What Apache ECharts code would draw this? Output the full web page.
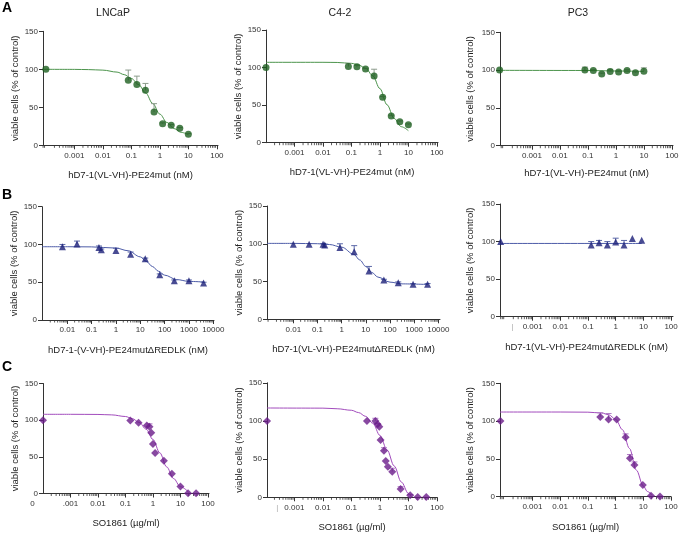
<!DOCTYPE html>
<html><head><meta charset="utf-8">
<script src="https://cdn.jsdelivr.net/npm/echarts@6/dist/echarts.min.js"></script>
<style>html,body{margin:0;padding:0;background:#fff}#c{width:679px;height:533px}</style>
</head><body><div id="c"></div>
<script>
// ---------- tick labels ----------
const tickPosA = [-3, -2, -1, 0, 1, 2];
const tickTextA = ['0.001', '0.01', '0.1', '1', '10', '100'];
const tickPosB = [-2, -1, 0, 1, 2, 3, 4];
const tickTextB = ['0.01', '0.1', '1', '10', '100', '1000', '10000'];
const tickPosB3 = [-3.73, -3, -2, -1, 0, 1, 2];
const tickTextB3 = ['|', '0.001', '0.01', '0.1', '1', '10', '100'];
const tickPosC1 = [-4, -3, -2, -1, 0, 1, 2];
const tickTextC1 = ['0', '.001', '0.01', '0.1', '1', '10', '100'];
const tickPosC2 = [-3.6, -3, -2, -1, 0, 1, 2];
const tickTextC2 = ['|', '0.001', '0.01', '0.1', '1', '10', '100'];
const yTicks = [0, 50, 100, 150];

// ---------- row A: hD7-1(VL-VH)-PE24mut ----------
const lncapConc   = [0.0001, 0.078, 0.156, 0.3125, 0.625, 1.25, 2.5, 5, 10];
const lncapViable = [100, 85.5, 80, 72.4, 43.8, 28.5, 26.3, 22.3, 14.5];
const lncapErr    = [0, 13.5, 11, 9, 11, 1, 1, 1, 1];
const lncapFitLog = [-4.1, -3, -2.5, -2, -1.5, -1.25, -1, -0.75, -0.5, -0.25, 0, 0.25, 0.5, 0.75, 1.0];
const lncapFitY   = [100, 99.9, 99.6, 98.9, 96.3, 93, 88, 80, 69, 55, 41, 30, 22, 17, 14];

const c42Conc   = [0.0001, 0.078, 0.156, 0.3125, 0.625, 1.25, 2.5, 5, 10];
const c42Viable = [100, 101.3, 101, 98, 88.8, 60.4, 35.6, 28, 24];
const c42Err    = [0, 4, 2, 1, 9, 1, 1, 1, 1];
const c42FitLog = [-4, -2, -1.5, -1, -0.75, -0.5, -0.25, 0, 0.25, 0.5, 0.75, 1.0];
const c42FitY   = [107, 107, 106.8, 105.6, 103.6, 98.9, 89.1, 72, 50.5, 32.3, 21.3, 16];

const pc3Conc   = [0.00007, 0.078, 0.156, 0.3125, 0.625, 1.25, 2.5, 5, 10];
const pc3Viable = [100, 100, 99.5, 95, 98, 97.5, 99.5, 96.5, 98.5];
const pc3Err    = [0, 4, 1, 1, 3, 1, 1, 1, 4.5];
const pc3FitLog = [-4.14, -1, 0, 1];
const pc3FitY   = [99.7, 99.5, 98.8, 98.3];

// ---------- row B: ΔREDLK ----------
const bLncapConc   = [0.0063, 0.025, 0.2, 0.25, 1, 4, 16, 63, 250, 1000, 4000];
const bLncapViable = [97, 100.5, 96, 93, 92, 87, 81, 60, 52, 52, 49];
const bLncapErr    = [3, 4, 2, 1, 3, 3, 1, 1, 1, 1, 1];
const bLncapFitLog = [-3.04, -2, -1, 0, 0.5, 1, 1.25, 1.5, 1.75, 2, 2.5, 3, 3.6];
const bLncapFitY   = [97, 97, 96.8, 95.2, 91.7, 83.6, 77.5, 70.8, 64.5, 59.4, 53.5, 51.1, 50.3];

const bC42Conc   = [0.01, 0.045, 0.17, 0.2, 0.85, 3.3, 13.5, 56, 220, 900, 3600];
const bC42Viable = [99.3, 99.3, 99.3, 98.5, 95, 89.5, 64, 52, 48.5, 46.3, 46.3];
const bC42Err    = [1, 1, 1, 1, 5, 8, 6, 1, 1, 1, 1];
const bC42FitLog = [-3.09, -2, -1, -0.5, 0, 0.5, 0.75, 1, 1.25, 1.5, 2, 2.5, 3.56];
const bC42FitY   = [100.5, 100.5, 100.1, 99, 95.5, 86.1, 78.5, 69.9, 62, 55.9, 49.2, 46.9, 46.1];

const bPc3Conc   = [0.00007, 0.13, 0.25, 0.5, 1, 2, 4, 8.7];
const bPc3Viable = [100, 95.5, 98.5, 95.5, 99.5, 95.5, 104, 101.7];
const bPc3Err    = [0, 4.5, 3, 4.5, 5, 6, 0, 0];
const bPc3FitLog = [-4.18, 0.94];
const bPc3FitY   = [97.5, 97.5];

// ---------- row C: SO1861 ----------
const cLncapConc   = [0.0001, 0.15, 0.3, 0.6, 0.75, 0.87, 1, 1.2, 2.5, 4.9, 10, 19, 37];
const cLncapViable = [100, 99.6, 96.4, 92.7, 91, 82.7, 67.6, 55.3, 44.8, 27, 9.6, 0.5, 0.3];
const cLncapErr    = [0, 0, 0, 0, 4, 0, 0, 0, 0, 0, 0, 0, 0];
const cLncapFitLog = [-4, -3, -2, -1.5, -1, -0.75, -0.5, -0.25, 0, 0.25, 0.5, 0.75, 1, 1.3];
const cLncapFitY   = [108, 108, 107.8, 107.2, 105, 102.1, 96.9, 87.8, 73.7, 55.5, 36.3, 20.4, 9.3, 1.7];

const cC42Conc   = [0.00011, 0.35, 0.69, 0.83, 0.95, 1.05, 1.38, 1.6, 1.9, 2.7, 5.3, 11.5, 21, 42];
const cC42Viable = [100, 100, 100, 95.6, 92.5, 75, 61, 47.6, 40, 33.6, 10.9, 2.6, 0.5, 0.5];
const cC42Err    = [0, 0, 3.5, 1, 0, 0, 4, 0, 0, 4.5, 3, 1, 0, 0];
const cC42FitLog = [-3.96, -2, -1.5, -1, -0.75, -0.5, -0.25, 0, 0.25, 0.5, 0.75, 1, 1.1];
const cC42FitY   = [117, 116.8, 116, 114, 111, 106, 97, 81, 62, 41, 20, 5, 1];

const cPc3Conc   = [0.00007, 0.28, 0.56, 1.1, 2.3, 3.3, 4.8, 9.6, 19, 40];
const cPc3Viable = [100, 105.5, 102, 102, 78.6, 50.8, 42, 15.5, 1.3, 0.3];
const cPc3Err    = [0, 5.5, 8, 0, 4.5, 5, 4, 0, 0, 0];
const cPc3FitLog = [-4.17, -2, -1, -0.5, -0.25, 0, 0.25, 0.5, 0.75, 1, 1.15, 1.3];
const cPc3FitY   = [112, 112, 111.8, 110.7, 108.4, 102.5, 88.6, 63.9, 35.1, 14.2, 6.9, 2.5];

// ---------- texts ----------
const cellLines = ['LNCaP', 'C4-2', 'PC3'];
const panelLetters = ['A', 'B', 'C'];
const yName = 'viable cells (% of control)';
const xNamesA = ['hD7-1(VL-VH)-PE24mut (nM)', 'hD7-1(VL-VH)-PE24mut (nM)', 'hD7-1(VL-VH)-PE24mut (nM)'];
const xNamesB = ['hD7-1-(V-VH)-PE24mut\u0394REDLK (nM)', 'hD7-1(VL-VH)-PE24mut\u0394REDLK (nM)', 'hD7-1(VL-VH)-PE24mut\u0394REDLK (nM)'];
const xNamesC = ['SO1861 (\u00b5g/ml)', 'SO1861 (\u00b5g/ml)', 'SO1861 (\u00b5g/ml)'];

// ---------- styling ----------
const green  = {pt: '#1d5f1f', fit: '#4c944c', err: '#8c9c8c', symbol: 'circle', size: 7};
const blue   = {pt: '#1c1f78', fit: '#4d5ca8', err: '#5b68a8', symbol: 'triangle', size: 7};
const purple = {pt: '#6a1b8a', fit: '#a24cbd', err: '#b07cc6', symbol: 'diamond', size: 8};

const panels = [
  {g:{left:43, top:31.3, width:175, height:114}, xmin:-4.1, xmax:2.04, tp:tickPosA, tt:tickTextA, c:lncapConc, v:lncapViable, e:lncapErr, fl:lncapFitLog, fy:lncapFitY, th:green, xn:xNamesA[0], ng:25, yng:22.5},
  {g:{left:266, top:30, width:172, height:112.7}, xmin:-4.0, xmax:2.04, tp:tickPosA, tt:tickTextA, c:c42Conc, v:c42Viable, e:c42Err, fl:c42FitLog, fy:c42FitY, th:green, xn:xNamesA[1], ng:25, yng:20.5},
  {g:{left:500, top:32.3, width:173, height:113.4}, xmin:-4.14, xmax:2.04, tp:tickPosA, tt:tickTextA, c:pc3Conc, v:pc3Viable, e:pc3Err, fl:pc3FitLog, fy:pc3FitY, th:green, xn:xNamesA[2], ng:22.5, yng:24.5},
  {g:{left:42, top:206.7, width:172, height:113.3}, xmin:-3.04, xmax:4.03, tp:tickPosB, tt:tickTextB, c:bLncapConc, v:bLncapViable, e:bLncapErr, fl:bLncapFitLog, fy:bLncapFitY, th:blue, xn:xNamesB[0], ng:25, yng:21.5},
  {g:{left:267, top:206, width:173, height:113.3}, xmin:-3.09, xmax:4.07, tp:tickPosB, tt:tickTextB, c:bC42Conc, v:bC42Viable, e:bC42Err, fl:bC42FitLog, fy:bC42FitY, th:blue, xn:xNamesB[1], ng:25.5, yng:21.5},
  {g:{left:500, top:204, width:173, height:112.7}, xmin:-4.18, xmax:2.07, tp:tickPosB3, tt:tickTextB3, c:bPc3Conc, v:bPc3Viable, e:bPc3Err, fl:bPc3FitLog, fy:bPc3FitY, th:blue, xn:xNamesB[2], ng:26, yng:24.5},
  {g:{left:43, top:383.5, width:166, height:110}, xmin:-4.0, xmax:2.04, tp:tickPosC1, tt:tickTextC1, c:cLncapConc, v:cLncapViable, e:cLncapErr, fl:cLncapFitLog, fy:cLncapFitY, th:purple, xn:xNamesC[0], ng:24.5, yng:22.5},
  {g:{left:267, top:382.8, width:170, height:114.5}, xmin:-3.96, xmax:2.0, tp:tickPosC2, tt:tickTextC2, c:cC42Conc, v:cC42Viable, e:cC42Err, fl:cC42FitLog, fy:cC42FitY, th:purple, xn:xNamesC[1], ng:25.5, yng:21.5},
  {g:{left:500, top:383.3, width:171, height:113.4}, xmin:-4.17, xmax:2.0, tp:tickPosA, tt:tickTextA, c:cPc3Conc, v:cPc3Viable, e:cPc3Err, fl:cPc3FitLog, fy:cPc3FitY, th:purple, xn:xNamesC[2], ng:26, yng:24.5}
];

const FONT = 'Liberation Sans, Arial, sans-serif';
const AX = '#333';
const grid = [], xAxis = [], yAxis = [], series = [];

panels.forEach((p, i) => {
  grid.push(Object.assign({outerBoundsMode: 'none', containLabel: false}, p.g));
  const labelMap = {};
  p.tp.forEach((v, k) => { labelMap[v.toFixed(2)] = p.tt[k]; });
  const majors = p.tp.filter((v, k) => Number.isInteger(v) && p.tt[k] !== '0' && p.tt[k] !== '|');
  xAxis.push({
    type: 'value', gridIndex: i, min: p.xmin, max: p.xmax,
    name: p.xn, nameLocation: 'middle', nameGap: p.ng,
    nameTextStyle: {fontFamily: FONT, fontSize: 9.5, color: '#222'},
    axisLine: {show: true, onZero: false, lineStyle: {color: AX, width: 1}},
    axisTick: {show: true, length: 4, customValues: majors, lineStyle: {color: AX}},
    axisLabel: {
      customValues: p.tp, fontFamily: FONT, fontSize: 8, color: '#333', margin: 6, hideOverlap: false,
      formatter: (v) => {
        const t = labelMap[(+v).toFixed(2)];
        if (t === '0') return '{z|0}';
        if (t === '|') return '{g||}';
        return t == null ? '' : t;
      },
      rich: {z: {padding: [0, 21, 0, 0], fontFamily: FONT, fontSize: 8, color: '#333'},
             g: {color: '#aaa', fontFamily: FONT, fontSize: 8}}
    },
    splitLine: {show: false}
  });
  yAxis.push({
    type: 'value', gridIndex: i, min: 0, max: 150, interval: 50,
    name: yName, nameLocation: 'middle', nameGap: p.yng, nameRotate: 90,
    nameTextStyle: {fontFamily: FONT, fontSize: 9.5, color: '#222'},
    axisLine: {show: true, onZero: false, lineStyle: {color: AX, width: 1}},
    axisTick: {show: true, length: 4, lineStyle: {color: AX}},
    axisLabel: {fontFamily: FONT, fontSize: 8, color: '#333', margin: 5, customValues: yTicks},
    splitLine: {show: false}
  });

  // minor log ticks
  const minors = [];
  for (let d = Math.floor(p.xmin); d <= Math.ceil(p.xmax); d++) {
    for (let k = 2; k <= 9; k++) {
      const pos = d + Math.log10(k);
      if (pos > p.xmin && pos < p.xmax) minors.push([pos, 0]);
    }
  }
  series.push({
    type: 'custom', xAxisIndex: i, yAxisIndex: i, data: minors, silent: true, z: 1,
    renderItem: (params, api) => {
      const pt = api.coord([api.value(0), 0]);
      return {type: 'line', shape: {x1: pt[0], y1: pt[1], x2: pt[0], y2: pt[1] + 2.5},
              style: {stroke: AX, lineWidth: 0.8}};
    }
  });

  // fitted curve
  series.push({
    type: 'line', xAxisIndex: i, yAxisIndex: i,
    data: p.fl.map((x, k) => [x, p.fy[k]]),
    showSymbol: false, smooth: 0.35, smoothMonotone: 'x', clip: false,
    lineStyle: {color: p.th.fit, width: 1}, z: 2, silent: true
  });

  // error bars (upper)
  const errData = p.c.map((c, k) => [Math.log10(c), p.v[k], p.e[k]]);
  const ec = p.th.err;
  series.push({
    type: 'custom', xAxisIndex: i, yAxisIndex: i, data: errData, z: 3, silent: true,
    renderItem: (params, api) => {
      const x = api.value(0), y = api.value(1), e = api.value(2);
      if (!(e > 0.5)) return null;
      const p0 = api.coord([x, y]), p1 = api.coord([x, y + e]);
      return {type: 'group', children: [
        {type: 'line', shape: {x1: p0[0], y1: p0[1], x2: p1[0], y2: p1[1]}, style: {stroke: ec, lineWidth: 1}},
        {type: 'line', shape: {x1: p1[0] - 3, y1: p1[1], x2: p1[0] + 3, y2: p1[1]}, style: {stroke: ec, lineWidth: 1}}
      ]};
    }
  });

  // data points
  series.push({
    type: 'scatter', xAxisIndex: i, yAxisIndex: i,
    data: p.c.map((c, k) => [Math.log10(c), p.v[k]]),
    symbol: p.th.symbol, symbolSize: p.th.size, clip: false, z: 4,
    itemStyle: {color: p.th.pt}
  });
});

const titleCenters = [113, 340, 578];
const graphic = [];
cellLines.forEach((t, k) => graphic.push({
  type: 'text', x: titleCenters[k], y: 8,
  style: {text: t, fontFamily: FONT, fontSize: 10.5, fill: '#222', textAlign: 'center', textVerticalAlign: 'top'}
}));
const letterTops = [1, 188, 360];
panelLetters.forEach((t, k) => graphic.push({
  type: 'text', x: 2, y: letterTops[k],
  style: {text: t, fontFamily: FONT, fontSize: 14, fontWeight: 'bold', fill: '#000', textAlign: 'left', textVerticalAlign: 'top'}
}));

const chart = echarts.init(document.getElementById('c'), null, {renderer: 'canvas'});
chart.setOption({
  animation: false, backgroundColor: '#fff',
  grid, xAxis, yAxis, series, graphic
});
</script></body></html>
